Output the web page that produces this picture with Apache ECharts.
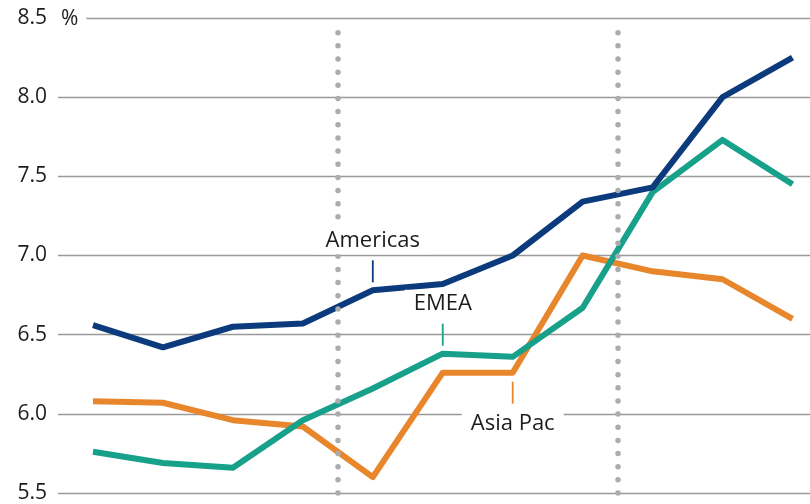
<!DOCTYPE html>
<html>
<head>
<meta charset="utf-8">
<script src="https://cdn.jsdelivr.net/npm/echarts@6/dist/echarts.min.js"></script>
<style>
html,body{margin:0;padding:0;background:#fff;}
#chart{width:810px;height:504px;}
</style>
</head>
<body>
<div id="chart"></div>
<script>
// Period index (no visible x labels in the original)
const periods = [0, 1, 2, 3, 4, 5, 6, 7, 8, 9, 10];
const americas = [6.56, 6.42, 6.55, 6.57, 6.78, 6.82, 7.00, 7.34, 7.43, 8.00, 8.25];
const emea     = [5.76, 5.69, 5.66, 5.96, 6.16, 6.38, 6.36, 6.67, 7.40, 7.73, 7.45];
const asiaPac  = [6.08, 6.07, 5.96, 5.92, 5.60, 6.26, 6.26, 7.00, 6.90, 6.85, 6.60];
const yTicks = [5.5, 6.0, 6.5, 7.0, 7.5, 8.0, 8.5];
const dividers = [3.5, 7.5];
const seriesNames = ['Americas', 'EMEA', 'Asia Pac'];
// label anchor points (period index) for each series annotation
const labelAt = { 'Americas': 4, 'EMEA': 5, 'Asia Pac': 6 };

const FONT = '"Open Sans", "Noto Sans", sans-serif';
const TXT = '#1e1b1c';
const colors = { 'Americas': '#0b3b7d', 'EMEA': '#17a08a', 'Asia Pac': '#e8862c' };

function pairs(vals) { return periods.map((p, i) => [p, vals[i]]); }

function annot(name, vals, above) {
  const idx = labelAt[name];
  return {
    silent: true,
    animation: false,
    data: [{
      coord: [periods[idx], vals[idx]],
      symbol: 'rect',
      symbolSize: [1.8, 22],
      symbolOffset: [0, above ? -19 : 20],
      itemStyle: { color: colors[name] },
      label: {
        show: true,
        position: above ? 'top' : 'bottom',
        distance: 6,
        formatter: name,
        color: TXT,
        fontFamily: FONT,
        fontSize: 22,
        backgroundColor: '#ffffff',
        padding: [3, 9, 3, 9]
      }
    }]
  };
}

const chart = echarts.init(document.getElementById('chart'), null, { renderer: 'canvas' });
chart.setOption({
  animation: false,
  backgroundColor: '#ffffff',
  grid: { left: 58, right: 0, top: 18, bottom: 11, containLabel: false },
  xAxis: {
    type: 'value',
    min: -0.5,
    max: 10.25,
    axisLine: { show: false },
    axisTick: { show: false },
    axisLabel: { show: false },
    splitLine: { show: false }
  },
  yAxis: {
    type: 'value',
    min: 5.5,
    max: 8.5,
    interval: 0.5,
    axisLine: { show: false },
    axisTick: { show: false },
    axisLabel: {
      margin: 11,
      color: TXT,
      fontFamily: FONT,
      fontSize: 21,
      formatter: v => yTicks.includes(+v.toFixed(1)) ? v.toFixed(1) : ''
    },
    splitLine: { show: true, lineStyle: { color: '#999999', width: 1.4 } }
  },
  graphic: [{
    type: 'text',
    z: 100,
    left: 58,
    top: 7,
    style: {
      text: '%',
      fill: TXT,
      font: '21px ' + FONT,
      backgroundColor: '#ffffff',
      padding: [2, 8, 2, 3]
    }
  }],
  series: [
    {
      type: 'line',
      name: 'dividers',
      z: 1,
      data: [],
      markLine: {
        silent: true,
        symbol: ['none', 'none'],
        label: { show: false },
        lineStyle: { color: '#acacac', width: 5.5, type: [0.001, 13.15], cap: 'round' },
        data: dividers.map(d => [{ coord: [d, 5.5] }, { coord: [d, 8.422] }])
      }
    },
    {
      type: 'line', name: 'Asia Pac', z: 2,
      data: pairs(asiaPac), showSymbol: false, symbol: 'none',
      lineStyle: { color: colors['Asia Pac'], width: 6, join: 'round' },
      markPoint: annot('Asia Pac', asiaPac, false)
    },
    {
      type: 'line', name: 'EMEA', z: 3,
      data: pairs(emea), showSymbol: false, symbol: 'none',
      lineStyle: { color: colors['EMEA'], width: 6, join: 'round' },
      markPoint: annot('EMEA', emea, true)
    },
    {
      type: 'line', name: 'Americas', z: 4,
      data: pairs(americas), showSymbol: false, symbol: 'none',
      lineStyle: { color: colors['Americas'], width: 6, join: 'round' },
      markPoint: annot('Americas', americas, true)
    }
  ]
});
</script>
</body>
</html>
